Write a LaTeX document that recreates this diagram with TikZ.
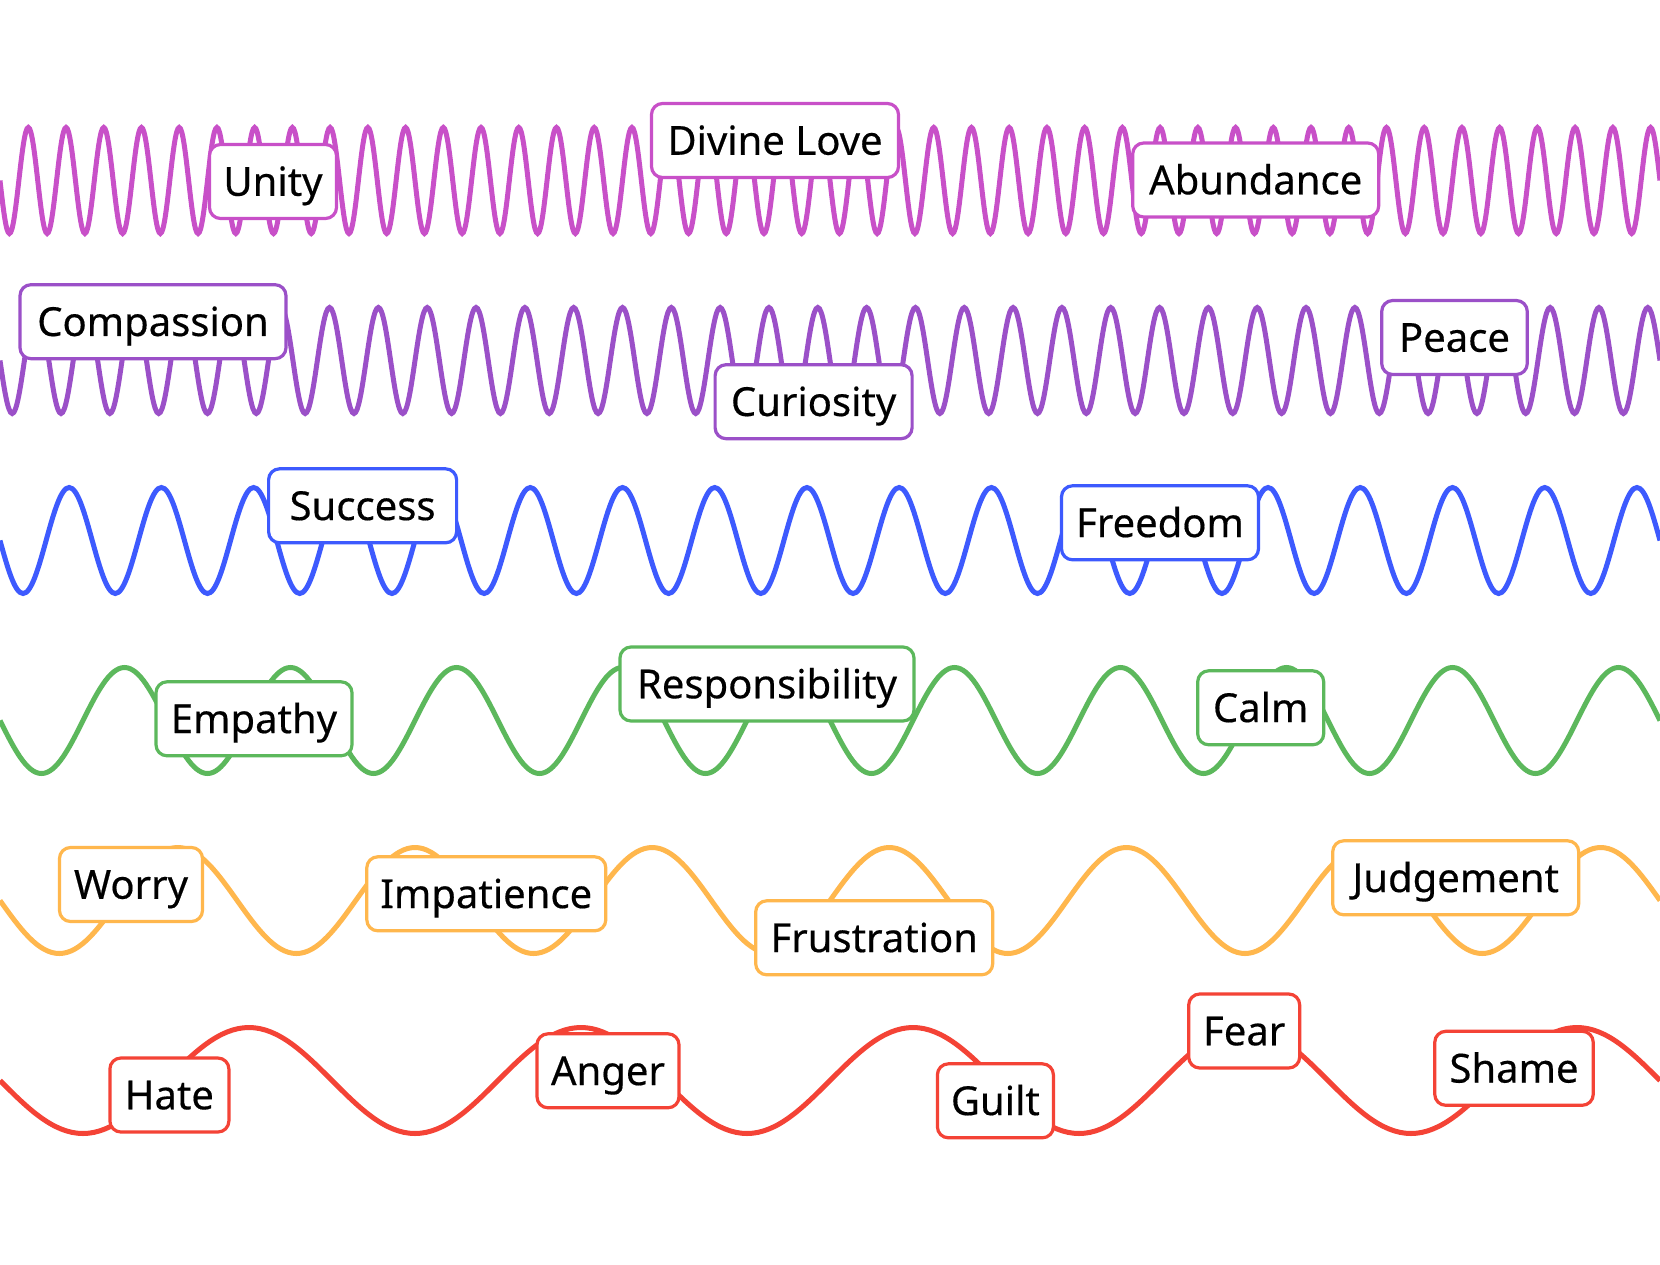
\documentclass[tikz,border=0pt]{standalone}
\usepackage{fontspec}
\setmainfont{Noto Sans}
\newfontfamily\labfam[FakeBold=0.4]{Noto Sans}
\newcommand\labfont{\labfam\fontsize{40}{48}\selectfont}
\definecolor{cA}{RGB}{200,80,200}
\definecolor{cB}{RGB}{155,80,200}
\definecolor{cC}{RGB}{61,90,254}
\definecolor{cD}{RGB}{92,184,92}
\definecolor{cE}{RGB}{255,183,77}
\definecolor{cF}{RGB}{244,67,54}
\tikzset{
  wave/.style={line width=5pt},
  lab/.style={draw, fill=white, line width=3.2pt, rounded corners=11pt, inner sep=0pt,
    minimum height=74pt, text height=28.5pt, text depth=0pt, font=\labfont, text=black},
}
\begin{document}
\begin{tikzpicture}[x=1pt,y=1pt]
\useasboundingbox[fill=white] (0,0) rectangle (1660,-1264);
% waves
\draw[wave, draw=cA] (0,-180.5) \foreach \i in {1,...,44}{ sin ++(9.4318,-53) cos ++(9.4318,53) sin ++(9.4318,53) cos ++(9.4318,-53) };
\draw[wave, draw=cB] (0,-360.5) \foreach \i in {1,...,34}{ sin ++(12.2059,-53) cos ++(12.2059,53) sin ++(12.2059,53) cos ++(12.2059,-53) };
\draw[wave, draw=cC] (0,-540.5) \foreach \i in {1,...,18}{ sin ++(23.0556,-53) cos ++(23.0556,53) sin ++(23.0556,53) cos ++(23.0556,-53) };
\draw[wave, draw=cD] (0,-720.5) \foreach \i in {1,...,10}{ sin ++(41.5,-53) cos ++(41.5,53) sin ++(41.5,53) cos ++(41.5,-53) };
\draw[wave, draw=cE] (0,-900.5) \foreach \i in {1,...,7}{ sin ++(59.2857,-53) cos ++(59.2857,53) sin ++(59.2857,53) cos ++(59.2857,-53) };
\draw[wave, draw=cF] (0,-1080.5) \foreach \i in {1,...,5}{ sin ++(83,-53) cos ++(83,53) sin ++(83,53) cos ++(83,-53) };
% labels row 1
\node[lab, draw=cA, minimum width=127pt] (unity) at (273,-181.5) {Unity};
\node[lab, draw=cA, minimum width=247pt] (divine) at (775,-140.5) {Divine Love};
\node[lab, draw=cA, minimum width=246pt] (abund) at (1255.7,-180) {Abundance};
% row 2
\node[lab, draw=cB, minimum width=266pt] (compassion) at (153,-321.7) {Compassion};
\node[lab, draw=cB, minimum width=197pt] (curiosity) at (813.6,-401.7) {Curiosity};
\node[lab, draw=cB, minimum width=145.6pt] (peace) at (1454.5,-337.5) {Peace};
% row 3
\node[lab, draw=cC, minimum width=188pt] (success) at (362.6,-505.8) {Success};
\node[lab, draw=cC, minimum width=197pt] (freedom) at (1160,-522.8) {Freedom};
% row 4
\node[lab, draw=cD, minimum width=196pt] (empathy) at (254,-718.8) {Empathy};
\node[lab, draw=cD, minimum width=294pt] (resp) at (767,-684) {Responsibility};
\node[lab, draw=cD, minimum width=126pt] (calm) at (1260.7,-707.8) {Calm};
% row 5
\node[lab, draw=cE, minimum width=143pt] (worry) at (131,-884.5) {Worry};
\node[lab, draw=cE, minimum width=239pt] (impat) at (486.3,-893.8) {Impatience};
\node[lab, draw=cE, minimum width=237pt] (frust) at (874.2,-937.8) {Frustration};
\node[lab, draw=cE, minimum width=246pt] (judge) at (1455.7,-877.8) {Judgement};
% row 6
\node[lab, draw=cF, minimum width=119pt] (hate) at (169.4,-1095) {Hate};
\node[lab, draw=cF, minimum width=142pt] (anger) at (608,-1070.8) {Anger};
\node[lab, draw=cF, minimum width=116pt] (guilt) at (995.4,-1100.8) {Guilt};
\node[lab, draw=cF, minimum width=111pt] (fear) at (1244.2,-1031) {Fear};
\node[lab, draw=cF, minimum width=158.5pt] (shame) at (1514,-1068.3) {Shame};
\end{tikzpicture}
\end{document}
